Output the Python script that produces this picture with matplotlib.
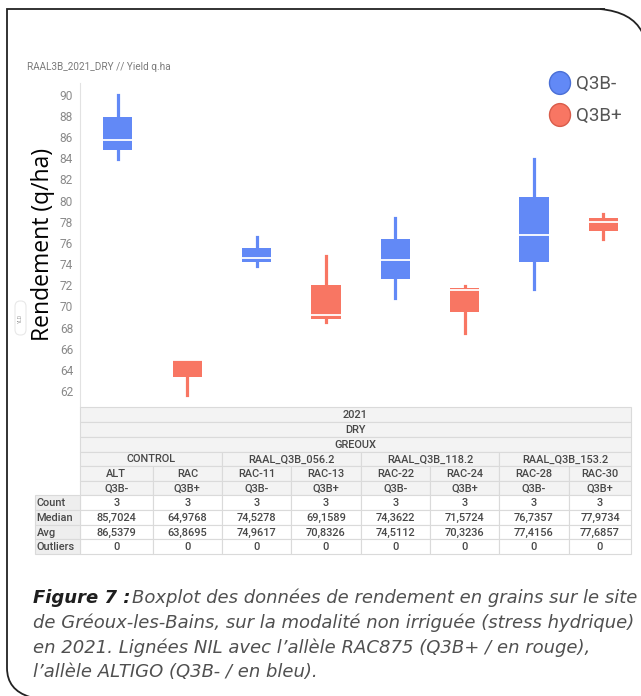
import numpy as np
import matplotlib.pyplot as plt
from matplotlib.patches import Rectangle, FancyBboxPatch, Circle
from matplotlib.path import Path
from matplotlib.patches import PathPatch

# three plots per line (min, median, max)
lines = ["ALT", "RAC", "RAC-11", "RAC-13", "RAC-22", "RAC-24", "RAC-28", "RAC-30"]
alleles = ["Q3B-", "Q3B+", "Q3B-", "Q3B+", "Q3B-", "Q3B+", "Q3B-", "Q3B+"]
groups = ["CONTROL", "RAAL_Q3B_056.2", "RAAL_Q3B_118.2", "RAAL_Q3B_153.2"]
yields = [
    [83.9113, 85.7024, 90.0000],
    [61.6500, 64.9768, 64.9817],
    [73.8300, 74.5278, 76.5273],
    [68.5389, 69.1589, 74.8000],
    [70.8100, 74.3622, 78.3614],
    [67.4500, 71.5724, 71.9484],
    [71.6000, 76.7357, 83.9111],
    [76.3400, 77.9734, 78.7437],
]
counts = [3, 3, 3, 3, 3, 3, 3, 3]
medians = ["85,7024", "64,9768", "74,5278", "69,1589", "74,3622", "71,5724", "76,7357", "77,9734"]
avgs = ["86,5379", "63,8695", "74,9617", "70,8326", "74,5112", "70,3236", "77,4156", "77,6857"]
outliers = [0, 0, 0, 0, 0, 0, 0, 0]
yticks = list(range(62, 91, 2))

BLUE = "#6289f6"
RED = "#f87663"
colors = {"Q3B-": BLUE, "Q3B+": RED}

W, H = 641, 696
fig = plt.figure(figsize=(W / 100, H / 100), dpi=100)
plt.rcParams['font.family'] = ['Roboto', 'DejaVu Sans']


def fx(x):
    return x / W


def fy(y):
    return 1 - y / H


# frame of the page box
verts = [(fx(605), fy(9)), (fx(7), fy(9)), (fx(7), fy(668)),
         (fx(7), fy(690)), (fx(30), fy(697)), (fx(32), fy(699))]
codes = [Path.MOVETO, Path.LINETO, Path.LINETO, Path.CURVE3, Path.CURVE3, Path.LINETO]
fig.add_artist(PathPatch(Path(verts, codes), transform=fig.transFigure,
                         fill=False, edgecolor="#222222", lw=1.3))
verts2 = [(fx(600), fy(9)), (fx(632), fy(12)), (fx(642), fy(32))]
fig.add_artist(PathPatch(Path(verts2, [Path.MOVETO, Path.CURVE3, Path.CURVE3]),
                         transform=fig.transFigure, fill=False, edgecolor="#222222", lw=1.3))

ax = fig.add_axes([fx(80), fy(407), (638 - 80) / W, (407 - 83) / H])
bp = ax.boxplot(yields, positions=range(len(yields)), widths=0.42, whis=(0, 100),
                patch_artist=True, showcaps=False, showfliers=False,
                medianprops=dict(color="white", lw=1.3),
                boxprops=dict(lw=0), whiskerprops=dict(lw=2.3))
for i, a in enumerate(alleles):
    bp["boxes"][i].set_facecolor(colors[a])
    bp["boxes"][i].set_edgecolor(colors[a])
    for w in bp["whiskers"][2 * i:2 * i + 2]:
        w.set_color(colors[a])
        w.set_zorder(0)

ax.set_xlim(-0.547, 7.5)
ax.set_ylim(60.5, 91.1)
ax.set_yticks(yticks)
ax.set_yticklabels([str(t) for t in yticks], color="#8a8a8a", fontsize=8.6)
ax.tick_params(axis="y", length=0, pad=5)
ax.set_xticks([])
for s in ["top", "right", "bottom"]:
    ax.spines[s].set_visible(False)
ax.spines["left"].set_color("#e2e2e2")

fig.text(fx(43), fy(244), "Rendement (q/ha)", rotation=90, ha="center", va="center",
         fontsize=16.5, color="black", family=["Open Sans", "DejaVu Sans"])
fig.text(fx(27), fy(67), "RAAL3B_2021_DRY // Yield q.ha", fontsize=7.2, color="#7a7a7a",
         va="center")
fig.add_artist(FancyBboxPatch((fx(15), fy(335)), fx(11), 34 / H, transform=fig.transFigure,
                              boxstyle="round,pad=0,rounding_size=0.008",
                              fc="white", ec="#e8e8e8", lw=0.8))
fig.text(fx(20.5), fy(318), "YLD", rotation=90, fontsize=3.8, color="#999999",
         ha="center", va="center")

# legend
for k, (lab, col, ec) in enumerate([("Q3B-", BLUE, "#4a6fd6"), ("Q3B+", RED, "#d95c4a")]):
    yc = 83 + 32 * k
    fig.add_artist(Circle((fx(560), fy(yc)), 10.5 / W, transform=fig.transFigure,
                          fc=col, ec=ec, lw=1))
    fig.text(fx(576), fy(yc + 1), lab, fontsize=13.5, color="#555555", va="center")

# summary table under the plot
cols = [80, 152.7, 222, 291, 361, 430, 499, 569, 631]
rows = [407, 421.7, 436.7, 451.7, 466, 480.7, 495, 510, 524.7, 539.3, 554]
HEAD = "#f3f3f3"
LINE = "#dadada"
TXT = "#484848"


def cell(x0, x1, y0, y1, txt, fc="white", color=TXT, ha="center"):
    fig.add_artist(Rectangle((fx(x0), fy(y1)), (x1 - x0) / W, (y1 - y0) / H,
                             transform=fig.transFigure, fc=fc, ec=LINE, lw=0.8))
    tx = (x0 + x1) / 2 if ha == "center" else x0 + 1.5
    fig.text(fx(tx), fy((y0 + y1) / 2 + 0.5), txt, ha=ha, va="center",
             fontsize=7.9, color=color, weight="medium")


for r, txt in enumerate(["2021", "DRY", "GREOUX"]):
    cell(cols[0], cols[-1], rows[r], rows[r + 1], txt, fc=HEAD)
for g, txt in enumerate(groups):
    cell(cols[2 * g], cols[2 * g + 2], rows[3], rows[4], txt, fc=HEAD)
for c in range(len(lines)):
    cell(cols[c], cols[c + 1], rows[4], rows[5], lines[c], fc=HEAD)
    cell(cols[c], cols[c + 1], rows[5], rows[6], alleles[c], fc=HEAD)
    cell(cols[c], cols[c + 1], rows[6], rows[7], str(counts[c]))
    cell(cols[c], cols[c + 1], rows[7], rows[8], medians[c])
    cell(cols[c], cols[c + 1], rows[8], rows[9], avgs[c])
    cell(cols[c], cols[c + 1], rows[9], rows[10], str(outliers[c]))
for r, txt in enumerate(["Count", "Median", "Avg", "Outliers"]):
    cell(35, cols[0], rows[6 + r], rows[7 + r], txt, fc="#eeeeee", ha="left")

# caption, sized so the second line runs to the right edge like the original
cap_font = ["DejaVu Sans"]
cap_lines = ["de Gréoux-les-Bains, sur la modalité non irriguée (stress hydrique)",
             "en 2021. Lignées NIL avec l\u2019allèle RAC875 (Q3B+ / en rouge),",
             "l\u2019allèle ALTIGO (Q3B- / en bleu)."]
probe = fig.text(0, 0, cap_lines[0], fontsize=12, style="italic", family=cap_font)
fig.canvas.draw()
cap_size = 12 * (632 - 33) / probe.get_window_extent().width
probe.remove()

t = fig.text(fx(33), fy(598), "Figure 7 :", fontsize=cap_size, style="italic", weight="bold",
             color="#1e1e1e", va="center", family=cap_font)
fig.canvas.draw()
bb = t.get_window_extent()
fig.text(bb.x1 / W + fx(1.5), fy(598), "Boxplot des données de rendement en grains sur le site",
         fontsize=cap_size, style="italic", color="#505050", va="center",
         family=cap_font)
for i, s in enumerate(cap_lines):
    fig.text(fx(33), fy(623 + 24.5 * i), s, fontsize=cap_size, style="italic",
             color="#505050", va="center", family=cap_font)

fig.savefig("out.png", dpi=100)
